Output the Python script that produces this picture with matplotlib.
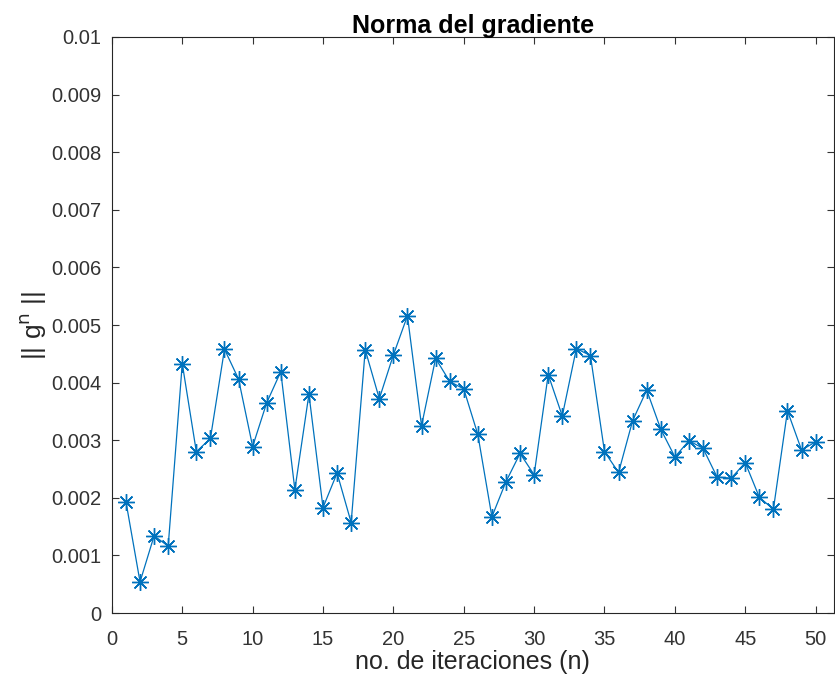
import matplotlib.pyplot as plt

plt.rcParams['font.family'] = ['Liberation Sans', 'DejaVu Sans']

iteraciones = list(range(1, 51))
norma_grad = [
    0.00193, 0.00054, 0.00134, 0.00116, 0.00433, 0.00280, 0.00303, 0.00458, 0.00406, 0.00289,
    0.00365, 0.00419, 0.00214, 0.00380, 0.00183, 0.00243, 0.00157, 0.00457, 0.00372, 0.00448,
    0.00516, 0.00325, 0.00442, 0.00402, 0.00389, 0.00310, 0.00167, 0.00228, 0.00277, 0.00240,
    0.00414, 0.00342, 0.00459, 0.00447, 0.00280, 0.00244, 0.00334, 0.00387, 0.00319, 0.00271,
    0.00299, 0.00286, 0.00236, 0.00234, 0.00261, 0.00201, 0.00180, 0.00351, 0.00283, 0.00297,
]
xticks = list(range(0, 51, 5))
yticks = [i / 1000 for i in range(0, 11)]
ytick_labels = ["0"] + ["%g" % v for v in yticks[1:]]

fig = plt.figure(figsize=(8.35, 6.89), dpi=100)
ax = fig.add_axes([0.134, 0.1103, 0.8647, 0.836])

ax.plot(iteraciones, norma_grad, color="#0072BD", linewidth=0.9,
        marker=(8, 2, 0), markersize=12, markeredgewidth=1.0)

ax.set_xlim(0, 51.3)
ax.set_ylim(0, 0.01)
ax.set_xticks(xticks)
ax.set_yticks(yticks)
ax.set_yticklabels(ytick_labels)
ax.tick_params(direction="in", top=True, right=True, length=5, width=0.8,
               labelsize=14.5, colors="#333333")
ax.tick_params(axis="x", pad=12)
ax.tick_params(axis="y", pad=7.5)
for s in ax.spines.values():
    s.set_linewidth(0.8)
    s.set_color("#262626")

ax.set_title("Norma del gradiente", fontsize=18, fontweight="bold", pad=3)
ax.set_xlabel("no. de iteraciones (n)", fontsize=18, color="#262626", labelpad=1)
ax.set_ylabel(r"|| g$^{\mathrm{n}}$ ||", fontsize=19, color="#262626", labelpad=2)

fig.savefig("out.png", dpi=100)
